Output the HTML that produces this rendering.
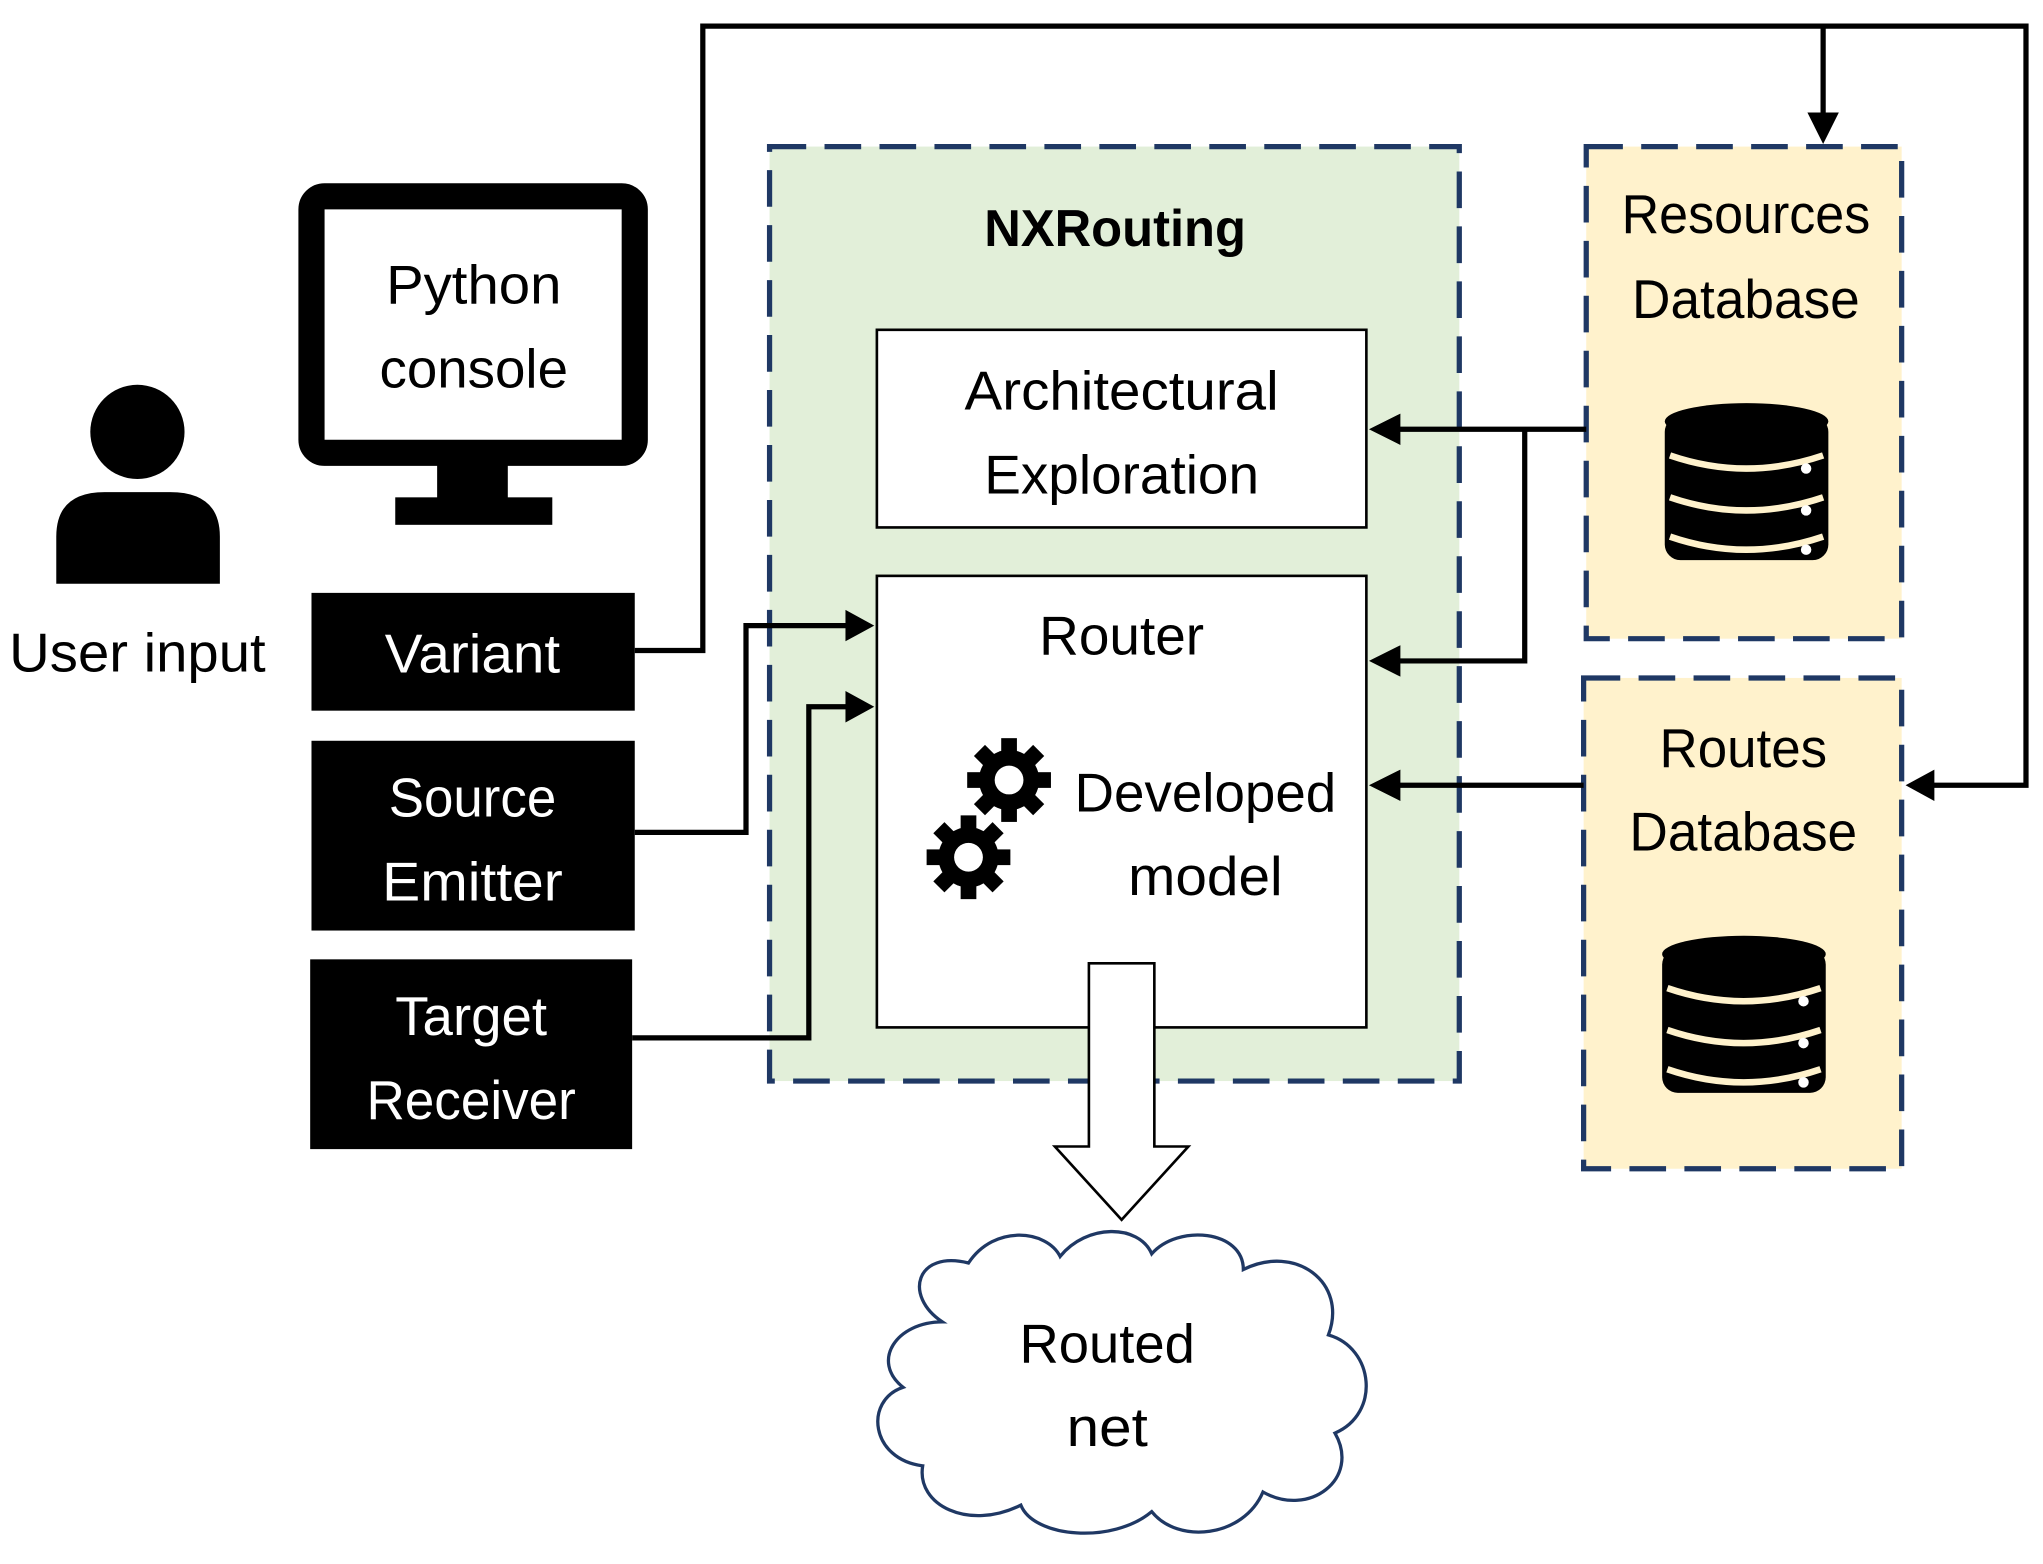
<!DOCTYPE html>
<html><head><style>html,body{margin:0;padding:0;background:#fff;}svg{display:block}</style></head>
<body>
<svg width="2043" height="1564" viewBox="0 0 1561 1195" preserveAspectRatio="none" xmlns="http://www.w3.org/2000/svg" font-family="'Liberation Sans', sans-serif">
<defs>
<marker id="ah" markerWidth="8" markerHeight="8" refX="7" refY="4" orient="auto" markerUnits="userSpaceOnUse" viewBox="0 0 8 8">
</marker>
</defs>
<!-- NXRouting -->
<rect x="588" y="112" width="527" height="714" fill="#e2efd9" stroke="#1f3864" stroke-width="4" stroke-dasharray="28,14"/>
<text x="852" y="188" font-size="40" font-weight="bold" text-anchor="middle" textLength="200" lengthAdjust="spacingAndGlyphs">NXRouting</text>
<rect x="670" y="252" width="374" height="151" fill="#fff" stroke="#000" stroke-width="2"/>
<text x="857" y="313" font-size="42" text-anchor="middle" textLength="240" lengthAdjust="spacingAndGlyphs">Architectural</text>
<text x="857" y="377" font-size="42" text-anchor="middle" textLength="210" lengthAdjust="spacingAndGlyphs">Exploration</text>
<rect x="670" y="440" width="374" height="345" fill="#fff" stroke="#000" stroke-width="2"/>
<text x="857" y="500" font-size="42" text-anchor="middle" textLength="126" lengthAdjust="spacingAndGlyphs">Router</text>
<text x="921" y="620" font-size="42" text-anchor="middle" textLength="200" lengthAdjust="spacingAndGlyphs">Developed</text>
<text x="921" y="684" font-size="42" text-anchor="middle" textLength="118" lengthAdjust="spacingAndGlyphs">model</text>
<!-- gears -->
<g transform="translate(771,596)">
<circle r="23" fill="#000"/><g fill="#000">
<rect x="-6" y="-32" width="12" height="64"/><rect x="-32" y="-6" width="64" height="12"/>
<rect x="-6" y="-32" width="12" height="64" transform="rotate(45)"/><rect x="-6" y="-32" width="12" height="64" transform="rotate(-45)"/></g>
<circle r="11" fill="#fff"/></g>
<g transform="translate(740,655)">
<circle r="23" fill="#000"/><g fill="#000">
<rect x="-6" y="-32" width="12" height="64"/><rect x="-32" y="-6" width="64" height="12"/>
<rect x="-6" y="-32" width="12" height="64" transform="rotate(45)"/><rect x="-6" y="-32" width="12" height="64" transform="rotate(-45)"/></g>
<circle r="11" fill="#fff"/></g>
<!-- DBs -->
<rect x="1212" y="112" width="241" height="376" fill="#fff2cc" stroke="#1f3864" stroke-width="4" stroke-dasharray="28,14"/>
<text x="1334" y="178" font-size="42" text-anchor="middle" textLength="190" lengthAdjust="spacingAndGlyphs">Resources</text>
<text x="1334" y="243" font-size="42" text-anchor="middle" textLength="174" lengthAdjust="spacingAndGlyphs">Database</text>
<rect x="1210" y="518" width="243" height="375" fill="#fff2cc" stroke="#1f3864" stroke-width="4" stroke-dasharray="28,14"/>
<text x="1332" y="586" font-size="42" text-anchor="middle" textLength="128" lengthAdjust="spacingAndGlyphs">Routes</text>
<text x="1332" y="650" font-size="42" text-anchor="middle" textLength="174" lengthAdjust="spacingAndGlyphs">Database</text>
<g id="db">
<rect x="1272" y="318" width="125" height="110" rx="12" fill="#000"/>
<ellipse cx="1334.5" cy="322" rx="62.5" ry="14" fill="#000"/>
<path d="M1276 348 Q1334 368 1393 348 M1276 380 Q1334 400 1393 380 M1276 410 Q1334 430 1393 410" stroke="#fff2cc" stroke-width="5" fill="none"/>
<circle cx="1380" cy="358" r="4" fill="#fff"/><circle cx="1380" cy="390" r="4" fill="#fff"/><circle cx="1380" cy="420" r="4" fill="#fff"/>
</g>
<use href="#db" transform="translate(-2,407)"/>
<!-- left side -->
<circle cx="105" cy="330" r="36" fill="#000"/>
<path d="M43 446 L43 410 Q43 376 80 376 L130 376 Q168 376 168 410 L168 446 Z" fill="#000"/>
<text x="105" y="513" font-size="42" text-anchor="middle" textLength="196" lengthAdjust="spacingAndGlyphs">User input</text>
<rect x="238" y="150" width="247" height="196" rx="10" fill="none" stroke="#000" stroke-width="20"/>
<rect x="334" y="355" width="54" height="26" fill="#000"/>
<rect x="302" y="380" width="120" height="21" fill="#000"/>
<text x="362" y="232" font-size="42" text-anchor="middle" textLength="134" lengthAdjust="spacingAndGlyphs">Python</text>
<text x="362" y="296" font-size="42" text-anchor="middle" textLength="144" lengthAdjust="spacingAndGlyphs">console</text>
<rect x="238" y="453" width="247" height="90" fill="#000"/>
<text x="361" y="514" font-size="42" fill="#fff" text-anchor="middle" textLength="134" lengthAdjust="spacingAndGlyphs">Variant</text>
<rect x="238" y="566" width="247" height="145" fill="#000"/>
<text x="361" y="624" font-size="42" fill="#fff" text-anchor="middle" textLength="128" lengthAdjust="spacingAndGlyphs">Source</text>
<text x="361" y="688" font-size="42" fill="#fff" text-anchor="middle" textLength="138" lengthAdjust="spacingAndGlyphs">Emitter</text>
<rect x="237" y="733" width="246" height="145" fill="#000"/>
<text x="360" y="791" font-size="42" fill="#fff" text-anchor="middle" textLength="116" lengthAdjust="spacingAndGlyphs">Target</text>
<text x="360" y="855" font-size="42" fill="#fff" text-anchor="middle" textLength="160" lengthAdjust="spacingAndGlyphs">Receiver</text>
<!-- connectors -->
<g fill="none" stroke="#000" stroke-width="4">
<path d="M485 497 H537 V20 H1548 V600 H1475"/>
<path d="M1393 20 V90"/>
<path d="M485 636 H570 V478 H648"/>
<path d="M483 793 H618 V540 H648"/>
<path d="M1212 328 H1066 M1165 328 V505 H1066"/>
<path d="M1210 600 H1066"/>
</g>
<g fill="#000">
<path d="M668 478 L646 466 L646 490 Z"/>
<path d="M668 540 L646 528 L646 552 Z"/>
<path d="M1046 328 L1070 316 L1070 340 Z"/>
<path d="M1046 505 L1070 493 L1070 517 Z"/>
<path d="M1046 600 L1070 588 L1070 612 Z"/>
<path d="M1456 600 L1478 588 L1478 612 Z"/>
<path d="M1393 110 L1381 86 L1405 86 Z"/>
</g>
<!-- big arrow -->
<path d="M832 736 H882 V876 H908 L857 932 L806 876 H832 Z" fill="#fff" stroke="#000" stroke-width="2"/>
<!-- cloud -->
<path d="M720 1010 C690 990 700 955 740 965 C760 935 800 940 810 960 C830 935 870 935 880 958 C900 935 950 940 950 970 C990 950 1030 980 1015 1020 C1050 1030 1055 1080 1020 1095 C1040 1130 1000 1160 965 1140 C950 1175 900 1180 880 1155 C850 1180 790 1175 780 1150 C740 1170 700 1150 705 1120 C665 1115 660 1070 690 1060 C665 1040 685 1010 720 1010 Z" fill="#fff" stroke="#1f3864" stroke-width="2.5"/>
<text x="846" y="1041" font-size="42" text-anchor="middle" textLength="134" lengthAdjust="spacingAndGlyphs">Routed</text>
<text x="846" y="1105" font-size="42" text-anchor="middle" textLength="62" lengthAdjust="spacingAndGlyphs">net</text>
</svg>
</body></html>
